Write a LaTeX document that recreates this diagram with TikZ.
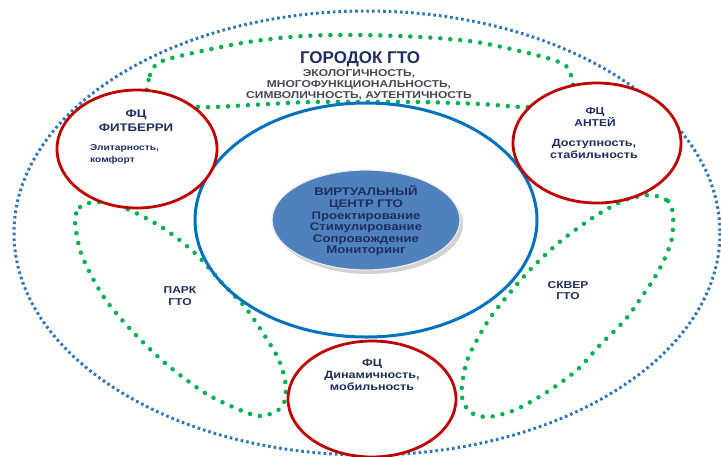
\documentclass[tikz,border=0pt]{standalone}
\usepackage{fontspec}
\setmainfont[FakeStretch=1.2]{Liberation Sans}
\newfontfamily\titlefont{Liberation Sans}

\definecolor{ringblue}{RGB}{0,112,192}
\definecolor{dotblue}{RGB}{46,117,182}
\definecolor{dotgreen}{RGB}{0,176,80}
\definecolor{ringred}{RGB}{192,0,0}
\definecolor{coreblue}{RGB}{79,129,189}
\definecolor{navytext}{RGB}{31,45,96}
\definecolor{greytext}{RGB}{72,72,84}

\begin{document}
\begin{tikzpicture}[x=1pt, y=-1pt,
	greendots/.style={dotgreen, line width=4.5pt, dash pattern=on 0pt off 10pt, line cap=round},
	outerdots/.style={dotblue, line width=3pt, dash pattern=on 2.6pt off 3pt},
	redring/.style={ringred, line width=2.8pt, fill=white},
	label/.style={navytext, inner sep=0pt, align=center, font=\bfseries}]
	
	\useasboundingbox (0,0) rectangle (721,456);
	\clip (0,0) rectangle (721,456);
	
	% ----- Городок ГТО: внешний овал -----
	\coordinate (mitte) at (367,233);
	\draw[outerdots] (mitte) ellipse[x radius=353, y radius=222];
	
	% Зелёные зоны
	\draw[greendots] plot[smooth cycle, tension=0.5] coordinates {
		(150,100) (150,75) (160,62) (193,53) (248,42) (303,36) (359,35)
		(421,37) (476,42) (528,53) (559,62) (570,72) (571,100)
		(530,107) (480,104) (420,102) (366,102) (310,102) (250,105) (200,107)};
	
	% Парк
	\draw[greendots] plot[smooth cycle, tension=0.5] coordinates {
		(75,220) (80,207) (95,202) (117,205) (140,215) (163,228) (182,242)
		(200,258) (222,283) (245,307) (263,333) (278,358) (285,380) (285,400)
		(277,411) (260,416) (240,410) (205,393) (165,363) (133,332) (108,303)
		(92,277) (80,250)};
	
	% Сквер
	\draw[greendots] plot[smooth cycle, tension=0.5] coordinates {
		(650,195) (668,201) (673,215) (672,238) (665,258) (655,277) (643,295)
		(625,320) (600,345) (577,370) (547,392) (515,410) (488,417) (470,412)
		(462,397) (463,378) (468,358) (478,338) (490,318) (508,295) (527,273)
		(545,255) (562,240) (582,225) (602,212) (625,200)};
	
	% ----- Виртуальный центр -----
	\coordinate (zentrum) at (366,220);
	\draw[ringblue, line width=3pt] (zentrum) ellipse[x radius=171, y radius=117];
	\fill[gray!35] (369,224) ellipse[x radius=94, y radius=50];
	\draw[coreblue, fill=coreblue, draw=gray!15, line width=1.2pt] (zentrum) ellipse[x radius=94, y radius=50];
	\node[label, font=\bfseries\fontsize{11}{11.6}\selectfont] (virtual) at (366,221)
		{ВИРТУАЛЬНЫЙ\\ЦЕНТР ГТО\\Проектирование\\Стимулирование\\Сопровождение\\Мониторинг};
	
	% ----- Фитнес-центры -----
	\coordinate (fitberri) at (137,149);
	\coordinate (antey) at (597,143);
	\coordinate (dinamo) at (372,399);
	\draw[redring] (fitberri) ellipse[x radius=80, y radius=59];
	\draw[redring] (antey) ellipse[x radius=84, y radius=60];
	\draw[redring] (dinamo) ellipse[x radius=84, y radius=58];
	
	\node[label, font=\bfseries\fontsize{11}{14}\selectfont] (fitkopf) at (136,121) {ФЦ\\ФИТБЕРРИ};
	\node[label, align=left, anchor=west, font=\bfseries\fontsize{8.5}{12}\selectfont] (fittext) at (90,154) {Элитарность,\\комфорт};
	
	\node[label, font=\bfseries\fontsize{10}{11}\selectfont] (antkopf) at (595,117.5) {ФЦ\\АНТЕЙ};
	\node[label, font=\bfseries\fontsize{10.5}{12}\selectfont] (anttext) at (594,149) {Доступность,\\стабильность};
	
	\node[label, font=\bfseries\fontsize{10.5}{12}\selectfont] (dintext) at (372,375) {ФЦ\\Динамичность,\\мобильность};
	
	% ----- Подписи зон -----
	\node[label, font=\titlefont\bfseries\fontsize{17}{17}\selectfont] (gorodok) at (360,59) {ГОРОДОК ГТО};
	\node[label, greytext, font=\bfseries\fontsize{10}{10.8}\selectfont] (oekologie) at (359,84.5)
		{ЭКОЛОГИЧНОСТЬ,\\МНОГОФУНКЦИОНАЛЬНОСТЬ,\\СИМВОЛИЧНОСТЬ, АУТЕНТИЧНОСТЬ};
	\node[label, font=\bfseries\fontsize{10}{12}\selectfont] (park) at (180,296) {ПАРК\\ГТО};
	\node[label, font=\bfseries\fontsize{10}{11}\selectfont] (skver) at (568,291) {СКВЕР\\ГТО};
	
\end{tikzpicture}
\end{document}
